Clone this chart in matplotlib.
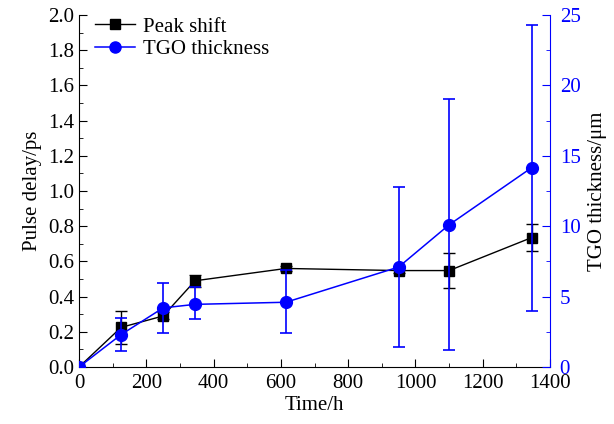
import matplotlib.pyplot as plt
from matplotlib.lines import Line2D
from matplotlib.ticker import MultipleLocator

plt.rcParams["font.family"] = ["Liberation Serif", "DejaVu Serif"]

# data
time_h = [0, 125, 250, 345, 615, 950, 1100, 1345]
peak_shift = [0.0, 0.225, 0.29, 0.49, 0.56, 0.548, 0.548, 0.735]
peak_err = [0.0, 0.095, 0.02, 0.035, 0.015, 0.015, 0.1, 0.075]
tgo = [0.0, 2.3, 4.2, 4.45, 4.6, 7.1, 10.1, 14.15]
tgo_err_low = [0.0, 1.15, 1.75, 1.05, 2.15, 5.65, 8.9, 10.15]
tgo_err_high = [0.0, 1.15, 1.75, 1.2, 2.3, 5.65, 8.9, 10.15]

blue = "#0000ff"
fs = 15

fig = plt.figure(figsize=(6.14, 4.24), dpi=100)
ax = fig.add_axes([0.1287, 0.1344, 0.7671, 0.8302])
ax2 = ax.twinx()

ax.errorbar(time_h, peak_shift, yerr=peak_err, color="black", marker="s",
            markersize=7.5, lw=1, capsize=4, elinewidth=1, capthick=1,
            zorder=3)
ax2.errorbar(time_h, tgo, yerr=[tgo_err_low, tgo_err_high], color=blue,
             marker="o", markersize=8.5, lw=1.1, capsize=4, elinewidth=1.2,
             capthick=1.2, zorder=3)

ax.set_xlim(0, 1400)
ax.set_ylim(0, 2.0)
ax2.set_ylim(0, 25)

ax.xaxis.set_major_locator(MultipleLocator(200))
ax.xaxis.set_minor_locator(MultipleLocator(100))
ax.yaxis.set_major_locator(MultipleLocator(0.2))
ax.yaxis.set_minor_locator(MultipleLocator(0.1))
ax2.yaxis.set_major_locator(MultipleLocator(5))
ax2.yaxis.set_minor_locator(MultipleLocator(2.5))
ax.yaxis.set_major_formatter(plt.FormatStrFormatter("%.1f"))

for a in (ax, ax2):
    a.spines["top"].set_visible(False)
ax.spines["right"].set_visible(False)
ax2.spines["left"].set_visible(False)
ax2.spines["bottom"].set_visible(False)
ax2.spines["right"].set_color(blue)

ax.tick_params(which="both", direction="in", labelsize=fs)
ax.tick_params(which="major", length=6)
ax.tick_params(which="minor", length=3)
ax.tick_params(axis="x", pad=5)
ax2.tick_params(which="both", direction="in", colors=blue, labelsize=fs)
ax2.tick_params(which="major", length=6, pad=7)
ax2.tick_params(which="minor", length=3)

ax.set_xlabel("Time/h", fontsize=fs, labelpad=2)
ax.set_ylabel("Pulse delay/ps", fontsize=fs, labelpad=4)
ax2.set_ylabel("TGO thickness/μm", fontsize=fs, color="black", labelpad=5)

handles = [
    Line2D([], [], color="black", marker="s", markersize=7, lw=1),
    Line2D([], [], color=blue, marker="o", markersize=8, lw=1.1),
]
ax.legend(handles, ["Peak shift", "TGO thickness"], loc="upper left",
          frameon=False, fontsize=fs, handlelength=1.9, handletextpad=0.4,
          borderaxespad=0.0, borderpad=0.1, labelspacing=0.15,
          bbox_to_anchor=(0.03, 1.0))

fig.savefig("out.png", dpi=100)
